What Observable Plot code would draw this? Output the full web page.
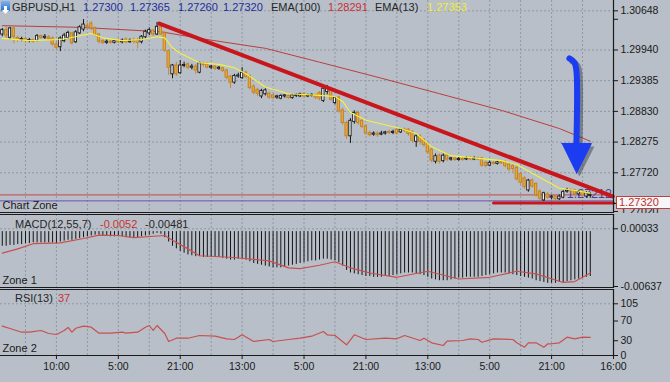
<!DOCTYPE html>
<html><head><meta charset="utf-8">
<script src="https://cdn.jsdelivr.net/npm/d3@7"></script>
<script src="https://cdn.jsdelivr.net/npm/@observablehq/plot@0.6"></script>
<style>
body{margin:0;background:#b8bfc8;}
#root{position:relative;width:670px;height:382px;overflow:hidden;background:#b8bfc8;font-family:"Liberation Sans",Arial,sans-serif;color:#1a1a1a;}
.pane{position:absolute;left:0;}
.lab{position:absolute;font-size:11px;line-height:12px;white-space:nowrap;z-index:10;}
</style></head><body><div id="root"></div>
<script>
// ---------- data ----------
const symbol = "GBPUSD,H1";
const ohlcHeader = ["1.27300","1.27365","1.27260","1.27320"];
const ema100Label = "EMA(100)", ema100Last = "1.28291";
const ema13Label = "EMA(13)", ema13Last = "1.27353";

const opens = [1.3022,1.3030,1.3016,1.3033,1.3016,1.3012,1.3014,1.3010,1.3012,1.3011,1.3019,1.3016,1.3017,1.3015,1.3004,1.2999,1.3010,1.3016,1.3024,1.3008,1.3024,1.3031,1.3038,1.3042,1.3033,1.3022,1.3010,1.3007,1.3009,1.3007,1.3010,1.3008,1.3013,1.3008,1.3011,1.3012,1.3008,1.3017,1.3024,1.3029,1.3022,1.3035,1.3024,1.2992,1.2950,1.2966,1.2952,1.2965,1.2968,1.2962,1.2964,1.2953,1.2969,1.2968,1.2962,1.2964,1.2960,1.2961,1.2957,1.2946,1.2935,1.2946,1.2943,1.2953,1.2947,1.2928,1.2922,1.2910,1.2914,1.2915,1.2912,1.2908,1.2906,1.2910,1.2911,1.2907,1.2911,1.2910,1.2914,1.2910,1.2911,1.2912,1.2916,1.2902,1.2918,1.2922,1.2898,1.2908,1.2885,1.2862,1.2838,1.2864,1.2880,1.2866,1.2856,1.2844,1.2841,1.2843,1.2841,1.2843,1.2846,1.2844,1.2850,1.2845,1.2850,1.2850,1.2846,1.2828,1.2838,1.2832,1.2824,1.2814,1.2792,1.2803,1.2793,1.2803,1.2796,1.2798,1.2795,1.2797,1.2796,1.2798,1.2796,1.2798,1.2798,1.2790,1.2785,1.2790,1.2788,1.2791,1.2791,1.2787,1.2784,1.2781,1.2770,1.2762,1.2740,1.2758,1.2752,1.2738,1.2722,1.2733,1.2727,1.2729,1.2724,1.2727,1.2738,1.2740,1.2740,1.2733,1.2737,1.2729,1.27300];
const highs = [1.3033,1.3036,1.3035,1.3037,1.3019,1.3017,1.3016,1.3015,1.3014,1.3022,1.3021,1.3022,1.3020,1.3018,1.3008,1.3018,1.3024,1.3028,1.3026,1.3029,1.3038,1.3049,1.3043,1.3045,1.3036,1.3024,1.3013,1.3012,1.3012,1.3013,1.3014,1.3014,1.3016,1.3014,1.3016,1.3015,1.3020,1.3030,1.3034,1.3031,1.3044,1.3040,1.3027,1.2994,1.2968,1.2972,1.2975,1.2972,1.2971,1.2968,1.2968,1.2972,1.2972,1.2971,1.2966,1.2966,1.2964,1.2963,1.2959,1.2948,1.2950,1.2952,1.2962,1.2956,1.2949,1.2931,1.2925,1.2923,1.2924,1.2918,1.2914,1.2912,1.2913,1.2913,1.2913,1.2914,1.2915,1.2916,1.2917,1.2914,1.2915,1.2914,1.2919,1.2928,1.2930,1.2924,1.2910,1.2910,1.2889,1.2865,1.2870,1.2884,1.2883,1.2870,1.2858,1.2847,1.2846,1.2846,1.2847,1.2847,1.2849,1.2849,1.2852,1.2852,1.2853,1.2852,1.2848,1.2841,1.2841,1.2834,1.2826,1.2817,1.2806,1.2806,1.2806,1.2806,1.2800,1.2800,1.2800,1.2800,1.2801,1.2801,1.2801,1.2800,1.2800,1.2793,1.2793,1.2793,1.2794,1.2794,1.2794,1.2790,1.2787,1.2784,1.2773,1.2765,1.2760,1.2761,1.2754,1.2741,1.2737,1.2736,1.2731,1.2731,1.2732,1.2740,1.2744,1.2743,1.2742,1.2740,1.2740,1.2738,1.27365];
const lows = [1.3018,1.3015,1.3012,1.3005,1.3008,1.3009,1.3006,1.3007,1.3006,1.3009,1.3013,1.3013,1.3011,1.3001,1.2994,1.2991,1.3007,1.3013,1.3003,1.3006,1.3022,1.3027,1.3031,1.3029,1.3018,1.3005,1.3004,1.3004,1.3005,1.3005,1.3006,1.3005,1.3005,1.3006,1.3005,1.2996,1.3005,1.3014,1.3020,1.3018,1.3020,1.3020,1.2990,1.2948,1.2942,1.2946,1.2950,1.2962,1.2958,1.2958,1.2950,1.2951,1.2963,1.2960,1.2959,1.2957,1.2957,1.2953,1.2940,1.2924,1.2932,1.2943,1.2941,1.2942,1.2922,1.2913,1.2910,1.2906,1.2911,1.2905,1.2904,1.2905,1.2904,1.2907,1.2905,1.2905,1.2908,1.2908,1.2907,1.2908,1.2909,1.2904,1.2902,1.2899,1.2913,1.2901,1.2895,1.2880,1.2858,1.2832,1.2825,1.2860,1.2858,1.2852,1.2840,1.2837,1.2838,1.2836,1.2839,1.2840,1.2841,1.2841,1.2840,1.2843,1.2845,1.2838,1.2826,1.2818,1.2822,1.2818,1.2805,1.2790,1.2788,1.2788,1.2790,1.2792,1.2793,1.2792,1.2793,1.2793,1.2794,1.2794,1.2794,1.2794,1.2782,1.2781,1.2783,1.2786,1.2786,1.2787,1.2781,1.2774,1.2772,1.2757,1.2750,1.2742,1.2737,1.2744,1.2728,1.2722,1.2720,1.2724,1.2723,1.2721,1.2722,1.2725,1.2735,1.2734,1.2730,1.2730,1.2728,1.2726,1.27260];
const closes = [1.3030,1.3020,1.3033,1.3018,1.3012,1.3014,1.3010,1.3012,1.3009,1.3019,1.3016,1.3018,1.3014,1.3004,1.2998,1.3015,1.3020,1.3025,1.3006,1.3026,1.3035,1.3040,1.3036,1.3033,1.3021,1.3009,1.3007,1.3009,1.3007,1.3010,1.3008,1.3011,1.3008,1.3011,1.3009,1.3007,1.3018,1.3027,1.3030,1.3022,1.3036,1.3022,1.2993,1.2962,1.2966,1.2950,1.2966,1.2967,1.2962,1.2964,1.2957,1.2970,1.2967,1.2962,1.2964,1.2960,1.2962,1.2956,1.2944,1.2935,1.2947,1.2948,1.2953,1.2945,1.2925,1.2917,1.2915,1.2920,1.2921,1.2908,1.2907,1.2910,1.2911,1.2912,1.2907,1.2912,1.2913,1.2914,1.2910,1.2912,1.2913,1.2908,1.2906,1.2924,1.2926,1.2904,1.2908,1.2883,1.2862,1.2838,1.2866,1.2880,1.2862,1.2855,1.2843,1.2840,1.2843,1.2840,1.2843,1.2845,1.2844,1.2846,1.2843,1.2850,1.2848,1.2842,1.2830,1.2838,1.2828,1.2822,1.2809,1.2794,1.2802,1.2792,1.2803,1.2796,1.2798,1.2795,1.2797,1.2795,1.2798,1.2796,1.2798,1.2796,1.2785,1.2784,1.2790,1.2788,1.2791,1.2789,1.2784,1.2778,1.2779,1.2760,1.2754,1.2746,1.2758,1.2747,1.2731,1.2725,1.2735,1.2727,1.2729,1.2724,1.2729,1.2737,1.2740,1.2738,1.2733,1.2737,1.2731,1.2735,1.27320];

const ema13Idx = [0,7,15,19,23,26,31,36,40,42,43,44,46,51,56,60,63,68,74,82,86,88,90,94,103,107,111,116,129,133,137,144,148,152];
const ema13Val = [1.3015,1.3011,1.3013,1.3018,1.3024,1.3016,1.3011,1.3013,1.3018,1.3016,1.3007,1.2998,1.2988,1.2971,1.2968,1.2962,1.2951,1.2927,1.2915,1.2912,1.2910,1.2901,1.2881,1.2867,1.2852,1.2843,1.2819,1.2803,1.2794,1.2787,1.2771,1.2744,1.2740,1.27353];
const ema100Idx = [0,20,41,51,68,82,98,113,129,144,152];
const ema100Val = [1.3038,1.3035,1.3027,1.3015,1.2997,1.2972,1.2943,1.2915,1.2885,1.2852,1.28291];

const trendIdx = [40.6, 157.8], trendVal = [1.30419, 1.27292];
const supportIdx = [127, 158], supportVal = [1.27174, 1.27174];
const lastPrice = 1.27320;
const purpleLevel = 1.27212;
const arrowShaftIdx = [146.6, 147.9, 148.4, 148.4], arrowShaftVal = [1.29787, 1.29714, 1.29570, 1.28214];
const arrowHeadIdx = [144.6, 152.3, 148.4], arrowHeadVal = [1.28250, 1.28250, 1.27707];

const priceTicks = [1.30648, 1.30495, 1.29940, 1.29385, 1.28830, 1.28275, 1.27720, 1.27165, 1.27020];
const priceTickLabels = ["1.30648", "", "1.29940", "1.29385", "1.28830", "1.28275", "1.27720", "", "1.27020"];
const priceGrid = [1.30648, 1.29940, 1.29385, 1.28830, 1.28275, 1.27720];

const macdHist = [-0.0017,-0.0017,-0.0016,-0.0016,-0.0015,-0.0015,-0.0014,-0.0014,-0.0013,-0.0013,-0.0013,-0.0013,-0.0013,-0.0013,-0.0014,-0.0012,-0.0011,-0.0010,-0.0010,-0.0009,-0.0008,-0.0007,-0.0006,-0.0005,-0.0004,-0.0004,-0.0005,-0.0005,-0.0006,-0.0006,-0.0006,-0.0006,-0.0007,-0.0007,-0.0007,-0.0007,-0.0006,-0.0005,-0.0004,-0.0003,-0.0002,-0.0003,-0.0007,-0.0012,-0.0017,-0.0020,-0.0023,-0.0025,-0.0027,-0.0028,-0.0029,-0.0029,-0.0030,-0.0030,-0.0030,-0.0030,-0.0030,-0.0031,-0.0032,-0.0033,-0.0033,-0.0032,-0.0032,-0.0033,-0.0035,-0.0037,-0.0038,-0.0039,-0.0040,-0.0041,-0.0042,-0.0042,-0.0042,-0.0041,-0.0040,-0.0039,-0.0038,-0.0037,-0.0036,-0.0035,-0.0034,-0.0034,-0.0033,-0.0032,-0.0032,-0.0033,-0.0034,-0.0036,-0.0040,-0.0045,-0.0048,-0.0049,-0.0050,-0.0051,-0.0052,-0.0052,-0.0053,-0.0053,-0.0053,-0.0052,-0.0052,-0.0051,-0.0050,-0.0049,-0.0048,-0.0048,-0.0048,-0.0049,-0.0050,-0.0051,-0.0053,-0.0055,-0.0056,-0.0057,-0.0057,-0.0057,-0.0056,-0.0055,-0.0054,-0.0054,-0.0053,-0.0053,-0.0053,-0.0053,-0.0052,-0.0051,-0.0050,-0.0049,-0.0048,-0.0048,-0.0048,-0.0049,-0.0050,-0.0051,-0.0052,-0.0053,-0.0054,-0.0055,-0.0057,-0.0058,-0.0059,-0.0060,-0.0060,-0.0060,-0.0059,-0.0059,-0.0058,-0.0057,-0.0056,-0.0055,-0.0054,-0.0053,-0.0052];
const signalIdx = [0,4,8,15,21,25,30,34,42,44,48,51,60,69,74,77,82,86,90,95,102,110,118,126,133,138,145,148,152];
const signalVal = [-0.0025,-0.0020,-0.0014,-0.0013,-0.0008,-0.0004,-0.00045,-0.0007,-0.00045,-0.0010,-0.0020,-0.0028,-0.0030,-0.0034,-0.0042,-0.0043,-0.0039,-0.0035,-0.0042,-0.0048,-0.0053,-0.0046,-0.0055,-0.0053,-0.0046,-0.0049,-0.0059,-0.0058,-0.00481];
const macdTicks = [0.00033, -0.00637];
const macdTitle = "MACD(12,55,7)", macdMain = "-0.0052", macdSignal = "-0.00481";

const rsiIdx = [0,2,5,7,10,12,14,16,17,18,19,21,23,25,28,31,32,35,37,38,39,40,42,43,45,48,51,55,58,60,62,65,69,70,74,77,80,83,84,86,89,91,94,99,102,104,108,109,111,114,115,119,121,123,124,127,132,133,135,136,138,140,141,142,144,146,148,150,152];
const rsiVal = [59.5,54.8,47.3,47.3,50.8,44.7,42.6,50.8,56.9,47.3,55.4,59.5,57.5,45.3,45.3,47.3,45.3,47.3,57.5,60.9,50.8,60.9,44.7,28.4,35.1,35.1,40.6,39.2,33.9,32.5,42,28.4,32.5,28.4,32.5,35.1,39.2,48.7,42,40.6,21.7,42,32.5,35.1,33.9,40.6,30.5,35.1,25.8,20.3,29,30.5,33.9,32.5,27,33.9,32.5,25.8,16.9,25.8,25.8,16.9,23.8,23.8,25.8,37.2,33.9,37.2,37];
const rsiTicks = [105, 70, 30, 0];
const rsiTitle = "RSI(13)", rsiLast = "37";

const timeTicks = [14,30,46,62,78,94,110,126,142,158];
const timeLabels = ["10:00","5:00","21:00","13:00","5:00","21:00","13:00","5:00","21:00","16:00"];
const gridBars = [6,14,22,30,38,46,54,62,70,78,86,94,102,110,118,126,134,142,150];

// ---------- build ----------
const bg = "#b8bfc8";
const gridC = "#8f98a4";
const dark = "#1a1a1a";
const bars = opens.map((o, i) => ({i, o, h: highs[i], l: lows[i], c: closes[i], up: closes[i] >= o}));
const pts = (I, V) => I.map((i, k) => ({i, v: V[k]}));
const xDom = [-0.463, 158];
const baseStyle = {background: bg, color: dark, fontFamily: "Liberation Sans, Arial, sans-serif", fontSize: "10.5px", overflow: "visible"};
const common = {width: 670, marginLeft: 0, marginRight: 57, x: {domain: xDom, axis: null}, style: baseStyle};
const vgrid = Plot.ruleX(gridBars, {stroke: gridC, strokeDasharray: "2,2", strokeWidth: 1});

const root = document.getElementById("root");
function addPane(svg, top, z) {
  const d = document.createElement("div");
  d.className = "pane"; d.style.top = top + "px"; d.style.zIndex = z;
  d.appendChild(svg); root.appendChild(d);
}
function addLab(text, left, top, color, size) {
  const s = document.createElement("div");
  s.className = "lab"; s.textContent = text; s.style.left = left + "px"; s.style.top = top + "px";
  s.style.color = color; if (size) s.style.fontSize = size + "px";
  root.appendChild(s); return s;
}

const main = Plot.plot({
  ...common, height: 213, marginTop: 0, marginBottom: 1,
  y: {domain: [1.27002, 1.30835], axis: null},
  marks: [
    vgrid,
    Plot.ruleY(priceGrid, {stroke: gridC, strokeDasharray: "2,2"}),
    Plot.ruleY([purpleLevel], {stroke: "#6a52b8", strokeWidth: 1}),
    Plot.ruleY([lastPrice], {stroke: "#c44a4a", strokeWidth: 1}),
    Plot.text([purpleLevel], {x: () => 157.6, y: d => d, text: d => d.toFixed(5), textAnchor: "end", lineAnchor: "bottom", dy: -3, fill: "#4d3f98", fontSize: 12.5}),
    Plot.line(pts(ema100Idx, ema100Val), {x: "i", y: "v", stroke: "#b8403c", strokeWidth: 1}),
    Plot.ruleX(bars, {x: "i", y1: "l", y2: "h", stroke: d => d.up ? "#161616" : "#c98a2e", strokeWidth: 1}),
    Plot.rect(bars, {x1: d => d.i - 0.3, x2: d => d.i + 0.3, y1: "o", y2: "c",
      fill: d => d.up ? "#f4f4f2" : "#eaa83a", stroke: d => d.up ? "#161616" : "#c08020", strokeWidth: 0.9}),
    Plot.line(pts(ema13Idx, ema13Val), {x: "i", y: "v", stroke: "#f4f23c", strokeWidth: 1.1}),
    Plot.line(pts(trendIdx, trendVal), {x: "i", y: "v", stroke: "#c8161c", strokeWidth: 4, strokeLinecap: "round"}),
    Plot.line(pts(supportIdx, supportVal), {x: "i", y: "v", stroke: "#c8161c", strokeWidth: 3.2}),
    Plot.line(pts(arrowShaftIdx, arrowShaftVal), {x: "i", y: "v", stroke: "#2a3040", strokeOpacity: 0.45, strokeWidth: 6, dx: 3, dy: 3, curve: "catmull-rom", strokeLinecap: "round"}),
    Plot.line(pts(arrowHeadIdx, arrowHeadVal), {x: "i", y: "v", fill: "#2a3040", fillOpacity: 0.45, stroke: "none", dx: 3, dy: 3}),
    Plot.line(pts(arrowShaftIdx, arrowShaftVal), {x: "i", y: "v", stroke: "#1c3cf2", strokeWidth: 6, curve: "catmull-rom", strokeLinecap: "round"}),
    Plot.line(pts(arrowHeadIdx, arrowHeadVal), {x: "i", y: "v", fill: "#1c3cf2", stroke: "#1c3cf2", strokeWidth: 1}),
    Plot.axisY({anchor: "right", label: null, ticks: priceTicks, tickFormat: d => priceTickLabels[priceTicks.indexOf(d)], tickSize: 4, tickPadding: 3, stroke: dark, fill: dark}),
    Plot.ruleX([xDom[1]], {stroke: dark, strokeWidth: 1.2}),
    Plot.frame({anchor: "bottom", stroke: dark, strokeWidth: 1.2}),
    Plot.text(["Chart Zone"], {frameAnchor: "bottom-left", text: d => d, dx: 2, dy: -4, fill: dark, fontSize: 11, textAnchor: "start"})
  ]
});
addPane(main, 0, 1);

const macd = Plot.plot({
  ...common, height: 75, marginTop: 1, marginBottom: 1,
  y: {domain: [-0.006486, 0.00199], axis: null},
  marks: [
    vgrid,
    Plot.ruleY([macdTicks[0]], {stroke: gridC, strokeDasharray: "2,2"}),
    Plot.ruleX(macdHist.map((v, i) => ({i, v})), {x: "i", y1: 0, y2: "v", stroke: "#141414", strokeWidth: 1}),
    Plot.line(pts(signalIdx, signalVal), {x: "i", y: "v", stroke: "#c8504e", strokeWidth: 1.2}),
    Plot.axisY({anchor: "right", label: null, ticks: macdTicks, tickFormat: d => d.toFixed(5), tickSize: 4, tickPadding: 3, stroke: dark, fill: dark}),
    Plot.ruleX([xDom[1]], {stroke: dark, strokeWidth: 1.2}),
    Plot.frame({anchor: "top", stroke: dark, strokeWidth: 1.2}),
    Plot.frame({anchor: "bottom", stroke: dark, strokeWidth: 1.2}),
    Plot.text(["Zone 1"], {frameAnchor: "bottom-left", text: d => d, dx: 2, dy: -4, fill: dark, fontSize: 11, textAnchor: "start"})
  ]
});
addPane(macd, 213, 3);

const rsi = Plot.plot({
  ...common, height: 94, marginTop: 1, marginBottom: 27,
  y: {domain: [0, 134], axis: null},
  marks: [
    vgrid,
    Plot.ruleY([rsiTicks[0]], {stroke: gridC, strokeDasharray: "2,2"}),
    Plot.line(pts(rsiIdx, rsiVal), {x: "i", y: "v", stroke: "#c8504e", strokeWidth: 1.2}),
    Plot.axisY({anchor: "right", label: null, ticks: rsiTicks, tickFormat: d => String(d), tickSize: 4, tickPadding: 3, stroke: dark, fill: dark}),
    Plot.axisX({anchor: "bottom", label: null, ticks: timeTicks, tickFormat: d => timeLabels[timeTicks.indexOf(d)], tickSize: 4, tickPadding: 3, stroke: dark, fill: dark}),
    Plot.ruleX([xDom[1]], {stroke: dark, strokeWidth: 1.2}),
    Plot.frame({anchor: "top", stroke: dark, strokeWidth: 1.2}),
    Plot.frame({anchor: "bottom", stroke: dark, strokeWidth: 1.2}),
    Plot.text(["Zone 2"], {frameAnchor: "bottom-left", text: d => d, dx: 2, dy: -4, fill: dark, fontSize: 11, textAnchor: "start"})
  ]
});
addPane(rsi, 288, 2);

// header
const icon = document.createElement("div");
icon.style.cssText = "position:absolute;left:1px;top:1px;width:9px;height:10px;z-index:10;background:linear-gradient(#7fb4f0,#2a6fd0);border-radius:1px;";
icon.innerHTML = '<svg width="9" height="10"><path d="M3 1h3v4h2L4.5 9 1 5h2z" fill="#fff"/></svg>';
root.appendChild(icon);
addLab(symbol, 12, 1, "#262626");
const hdrX = [83, 130, 178, 223];
ohlcHeader.forEach((t, k) => addLab(t, hdrX[k], 1, "#1e2e9e"));
addLab(ema100Label, 271, 1, "#262626");
addLab(ema100Last, 328, 1, "#c83232");
addLab(ema13Label, 375, 1, "#262626");
addLab(ema13Last, 427, 1, "#f0ee30");
// sub-window labels
addLab(macdTitle, 15, 218, "#262626");
addLab(macdMain, 100, 218, "#c83232");
addLab(macdSignal, 145, 218, "#262626");
addLab(rsiTitle, 15, 292, "#262626");
addLab(rsiLast, 58, 292, "#c83232");
// current price box
const box = addLab(lastPrice.toFixed(5), 616, 196, "#c03030");
box.style.cssText += "width:52px;height:11px;line-height:11px;background:#f6f6f6;border:1px solid #c04040;padding-left:2px;box-sizing:content-box;";
</script></body></html>
